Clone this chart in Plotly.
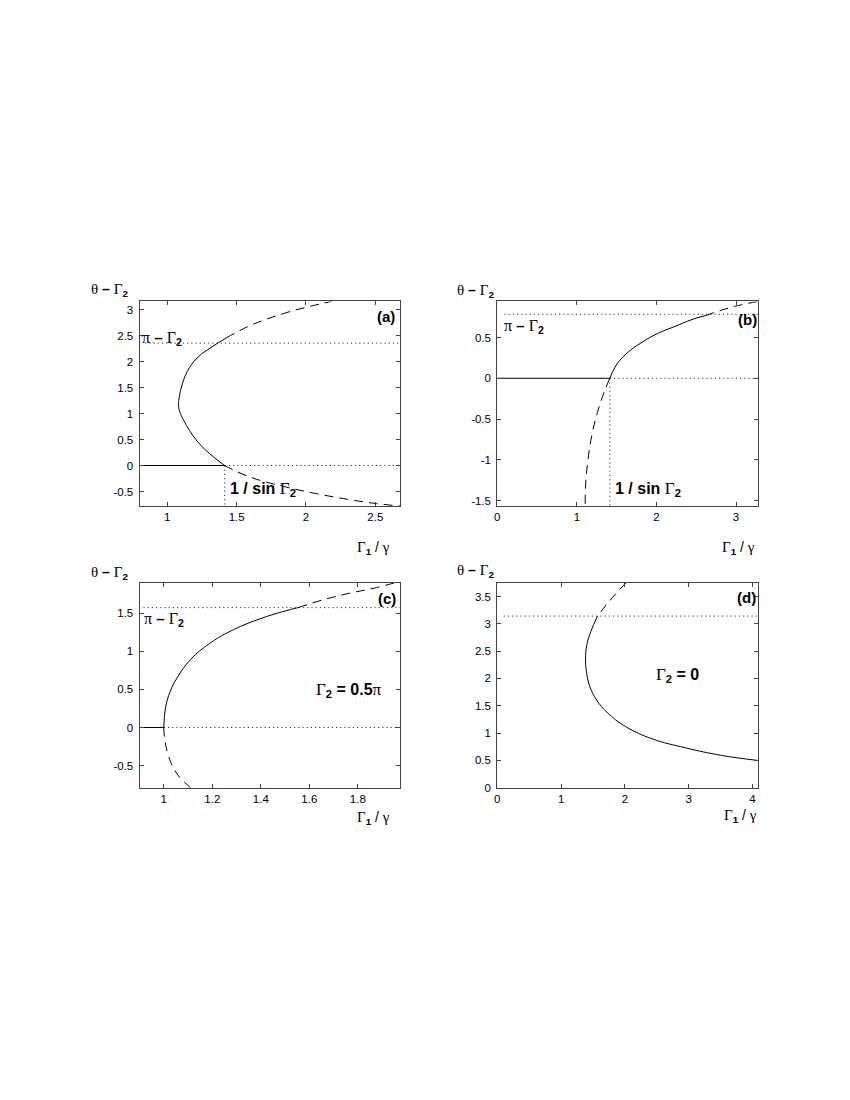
import plotly.graph_objects as go
from plotly.subplots import make_subplots

W, H = 850, 1100

# ---- panel (a): Gamma2 = pi/4 ----
a_flat_x = [0.8, 1.414]
a_flat_y = [0, 0]
a_solid_x = [1.414, 1.335, 1.215, 1.12, 1.095, 1.084, 1.081, 1.085, 1.10, 1.144, 1.215, 1.32, 1.426]
a_solid_y = [0, 0.16, 0.47, 0.86, 1.0, 1.09, 1.18, 1.29, 1.49, 1.81, 2.07, 2.28, 2.458]
a_dash_up_x = [1.426, 1.598, 1.837, 2.029, 2.184]
a_dash_up_y = [2.458, 2.695, 2.925, 3.065, 3.16]
a_dash_lo_x = [1.411, 1.598, 1.837, 2.077, 2.316, 2.508, 2.68]
a_dash_lo_y = [0, -0.224, -0.402, -0.543, -0.658, -0.734, -0.78]
a_pi_line = 2.356
a_crit = 1.414

# ---- panel (b): Gamma2 = 3pi/4 ----
b_flat_x = [0, 1.414]
b_flat_y = [0, 0]
b_solid_x = [1.414, 1.487, 1.612, 1.82, 2.029, 2.237, 2.445, 2.612]
b_solid_y = [0, 0.15, 0.293, 0.443, 0.556, 0.638, 0.72, 0.768]
b_dash_up_x = [2.612, 2.862, 3.07, 3.279]
b_dash_up_y = [0.768, 0.849, 0.902, 0.943]
b_dash_lo_x = [1.414, 1.341, 1.258, 1.187, 1.141, 1.112, 1.104]
b_dash_lo_y = [0, -0.175, -0.42, -0.704, -0.988, -1.273, -1.566]
b_pi_line = 0.785
b_crit = 1.414

# ---- panel (c): Gamma2 = 0.5 pi ----
c_flat_x = [0.9, 1.0]
c_flat_y = [0, 0]
c_solid_x = [1.0, 1.007, 1.027, 1.055, 1.11, 1.192, 1.287, 1.397, 1.492, 1.554]
c_solid_y = [0, 0.26, 0.477, 0.652, 0.89, 1.108, 1.282, 1.425, 1.52, 1.572]
c_dash_up_x = [1.554, 1.656, 1.766, 1.876, 1.95]
c_dash_up_y = [1.572, 1.673, 1.76, 1.833, 1.895]
c_dash_lo_x = [1.0, 1.003, 1.021, 1.055, 1.11]
c_dash_lo_y = [0, -0.13, -0.39, -0.61, -0.79]
c_pi_line = 1.571
c_crit = 1.0

# ---- panel (d): Gamma2 = 0 ----
d_dash_x = [2.02, 1.752, 1.57]
d_dash_y = [3.755, 3.41, 3.137]
d_solid_x = [1.57, 1.467, 1.405, 1.383, 1.40, 1.45, 1.56, 1.72, 2.012, 2.427, 2.947, 3.517, 4.078]
d_solid_y = [3.137, 2.864, 2.622, 2.349, 2.10, 1.85, 1.60, 1.38, 1.118, 0.895, 0.731, 0.591, 0.5]
d_pi_line = 3.1416

# axis ranges and ticks
a_xrange, a_yrange = [0.8, 2.68], [-0.785, 3.16]
b_xrange, b_yrange = [0, 3.28], [-1.57, 0.943]
c_xrange, c_yrange = [0.9, 1.975], [-0.79, 1.90]
d_xrange, d_yrange = [0, 4.08], [0, 3.755]

a_xticks = [1, 1.5, 2, 2.5]
a_yticks = [-0.5, 0, 0.5, 1, 1.5, 2, 2.5, 3]
b_xticks = [0, 1, 2, 3]
b_yticks = [-1.5, -1, -0.5, 0, 0.5]
c_xticks = [1, 1.2, 1.4, 1.6, 1.8]
c_yticks = [-0.5, 0, 0.5, 1, 1.5]
d_xticks = [0, 1, 2, 3, 4]
d_yticks = [0, 0.5, 1, 1.5, 2, 2.5, 3, 3.5]


def fx(p):
    return p / W


def fy(p):
    return 1 - p / H


# pixel boxes: left, right, top, bottom
boxes = {
    (1, 1): (129, 390.7, 295, 501),
    (1, 2): (488, 750, 295, 501),
    (2, 1): (129, 390.7, 577.7, 784),
    (2, 2): (488, 749.3, 577.7, 784),
}

fig = make_subplots(rows=2, cols=2)

SOLID = dict(color='black', width=1)
DASH = dict(color='black', width=1, dash='9px,6px')
DOT = dict(color='#333', width=1, dash='1.2px,3px')


def add(x, y, r, c, line, shape='spline'):
    fig.add_trace(go.Scatter(x=x, y=y, mode='lines',
                             line=dict(line, shape=shape, smoothing=1.2 if shape == 'spline' else None),
                             showlegend=False, hoverinfo='skip'), row=r, col=c)


# (a)
add([0.84, a_xrange[1]], [a_pi_line, a_pi_line], 1, 1, DOT, 'linear')
add([a_crit, a_xrange[1]], [0, 0], 1, 1, DOT, 'linear')
add([a_crit, a_crit], [0, a_yrange[0]], 1, 1, DOT, 'linear')
add(a_flat_x, a_flat_y, 1, 1, SOLID, 'linear')
add(a_solid_x, a_solid_y, 1, 1, SOLID)
add(a_dash_up_x, a_dash_up_y, 1, 1, DASH)
add(a_dash_lo_x, a_dash_lo_y, 1, 1, DASH)

# (b)
add([0.09, b_xrange[1]], [b_pi_line, b_pi_line], 1, 2, DOT, 'linear')
add([b_crit, b_xrange[1]], [0, 0], 1, 2, DOT, 'linear')
add([b_crit, b_crit], [0, b_yrange[0]], 1, 2, DOT, 'linear')
add(b_flat_x, b_flat_y, 1, 2, SOLID, 'linear')
add(b_solid_x, b_solid_y, 1, 2, SOLID)
add(b_dash_up_x, b_dash_up_y, 1, 2, DASH)
add(b_dash_lo_x, b_dash_lo_y, 1, 2, DASH)

# (c)
add([0.916, c_xrange[1]], [c_pi_line, c_pi_line], 2, 1, DOT, 'linear')
add([c_crit, c_xrange[1]], [0, 0], 2, 1, DOT, 'linear')
add(c_flat_x, c_flat_y, 2, 1, SOLID, 'linear')
add(c_solid_x, c_solid_y, 2, 1, SOLID)
add(c_dash_up_x, c_dash_up_y, 2, 1, DASH)
add(c_dash_lo_x, c_dash_lo_y, 2, 1, DASH)

# (d)
add([0.1, d_xrange[1]], [d_pi_line, d_pi_line], 2, 2, DOT, 'linear')
add(d_solid_x, d_solid_y, 2, 2, SOLID)
add(d_dash_x, d_dash_y, 2, 2, DASH)

settings = {
    (1, 1): (a_xrange, a_yrange, a_xticks, a_yticks),
    (1, 2): (b_xrange, b_yrange, b_xticks, b_yticks),
    (2, 1): (c_xrange, c_yrange, c_xticks, c_yticks),
    (2, 2): (d_xrange, d_yrange, d_xticks, d_yticks),
}

axis_style = dict(showgrid=False, zeroline=False, showline=True, linecolor='#444',
                  linewidth=1, mirror='allticks', ticks='inside', ticklen=4,
                  tickcolor='#444', tickfont=dict(family='Liberation Sans', size=11.5, color='black'))

for (r, c), (xr, yr, xt, yt) in settings.items():
    l, rr, t, b = boxes[(r, c)]
    fig.update_xaxes(range=xr, tickvals=xt, ticktext=['%g' % v for v in xt],
                     domain=[fx(l), fx(rr)], row=r, col=c, **axis_style)
    fig.update_yaxes(range=yr, tickvals=yt, ticktext=['%g' % v for v in yt],
                     domain=[fy(b), fy(t)], row=r, col=c, ticklabelstandoff=3, **axis_style)


def serif(s, size):
    return "<span style='font-family:Liberation Serif;font-size:%dpx'>%s</span>" % (size + 1, s)


def ylab(sz):
    return serif('θ', sz) + ' <b>–</b> ' + serif('Γ', sz) + '<b><sub>2</sub></b>'


def xlab(sz):
    return serif('Γ', sz) + '<b><sub>1</sub></b> / ' + serif('γ', sz)


def pilab(sz):
    return serif('π', sz) + ' <b>–</b> ' + serif('Γ', sz) + '<b><sub>2</sub></b>'


def critlab(sz):
    return '<b>1 / sin</b> ' + serif('Γ', sz) + '<b><sub>2</sub></b>'


LAB, PI, TXT, LET = 14, 15, 16, 15

annots = [
    # y labels (right edge, top)
    (ylab(LAB), 119, 272, 'right', 'top', LAB),
    (ylab(LAB), 487, 273, 'right', 'top', LAB),
    (ylab(LAB), 119, 557, 'right', 'top', LAB),
    (ylab(LAB), 487, 555, 'right', 'top', LAB),
    # x labels
    (xlab(LAB), 382, 532, 'right', 'top', LAB),
    (xlab(LAB), 749, 532, 'right', 'top', LAB),
    (xlab(LAB), 382, 803, 'right', 'top', LAB),
    (xlab(LAB), 751, 801, 'right', 'top', LAB),
    # panel letters
    ('<b>(a)</b>', 387, 300, 'right', 'top', LET),
    ('<b>(b)</b>', 751, 303, 'right', 'top', LET),
    ('<b>(c)</b>', 388, 583, 'right', 'top', LET),
    ('<b>(d)</b>', 750, 582, 'right', 'top', LET),
    # pi - Gamma2
    (pilab(PI), 129, 321, 'left', 'top', PI),
    (pilab(PI), 493, 309, 'left', 'top', PI),
    (pilab(PI), 131, 603, 'left', 'top', PI),
    # 1/sin Gamma2
    (critlab(TXT), 218, 472, 'left', 'top', TXT),
    (critlab(TXT), 604, 472, 'left', 'top', TXT),
    # Gamma2 values
    (serif('Γ', TXT) + '<b><sub>2</sub> = 0.5</b>' + serif('π', TXT), 304, 674, 'left', 'top', TXT),
    (serif('Γ', TXT) + '<b><sub>2</sub> = 0</b>', 645, 659, 'left', 'top', TXT),
]

for text, x, y, xa, ya, sz in annots:
    fig.add_annotation(text=text, x=fx(x), y=fy(y), xref='paper', yref='paper',
                       xanchor=xa, yanchor=ya, showarrow=False,
                       font=dict(family='Liberation Sans', size=sz, color='black'))

fig.update_layout(width=W, height=H, margin=dict(l=0, r=0, t=0, b=0),
                  plot_bgcolor='white', paper_bgcolor='white')

fig.write_html("out.html")
